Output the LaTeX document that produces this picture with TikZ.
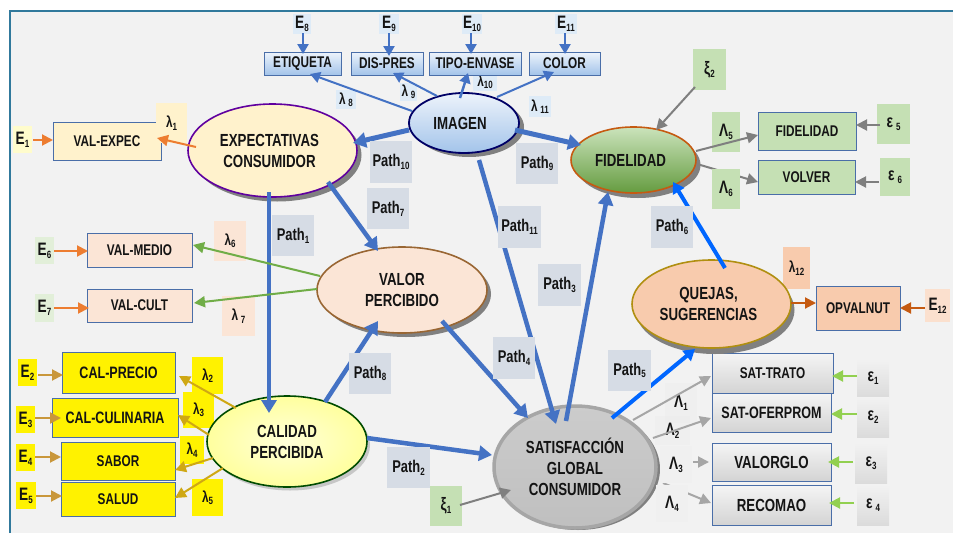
\documentclass[tikz,border=0pt]{standalone}
\usepackage{fontspec}
\setmainfont{Liberation Sans}[FakeStretch=0.76]
\usetikzlibrary{shapes.geometric,arrows.meta}
\definecolor{frameblue}{HTML}{31799C}
\definecolor{bgc}{HTML}{F2F2F2}
\definecolor{bluea}{HTML}{4472C4}
\definecolor{brightb}{HTML}{0066FF}
\definecolor{orangea}{HTML}{ED7D31}
\definecolor{greena}{HTML}{70AD47}
\definecolor{lime}{HTML}{92D050}
\definecolor{tan}{HTML}{C9973B}
\definecolor{gold}{HTML}{CFA814}
\definecolor{rust}{HTML}{C55A11}
\definecolor{greya}{HTML}{7F7F7F}
\definecolor{greyb}{HTML}{A6A6A6}
\definecolor{pathbg}{HTML}{D6DCE5}
\definecolor{greenbg}{HTML}{C5E0B4}
\definecolor{peach}{HTML}{FBE5D6}
\definecolor{cream}{HTML}{FFF2CC}
\definecolor{paleblue}{HTML}{DEEBF7}
\definecolor{salmon}{HTML}{F8CBAD}
\definecolor{boxline}{HTML}{4A6EA8}
\definecolor{gradtop}{HTML}{EDF3FB}
\definecolor{gradbot}{HTML}{A3C4EA}
\newcommand\subt[1]{\raisebox{-0.3ex}{\fontsize{10.5}{11}\selectfont #1}}
\newcommand\place[7]{%
  \pgfmathsetmacro\cxx{(#3+#5)/2}\pgfmathsetmacro\cyy{(#4+#6)/2}%
  \pgfmathsetmacro\ww{#5-#3}\pgfmathsetmacro\hh{#6-#4}%
  \expandafter\xdef\csname cx@#2\endcsname{\cxx}%
  \expandafter\xdef\csname cy@#2\endcsname{\cyy}%
  \node[#1,minimum width=\ww pt,minimum height=\hh pt] (#2) at (\cxx,\cyy) {#7};}
\newcommand\cn[7]{%
  \pgfmathsetmacro\dax{#3-\csname cx@#2\endcsname}%
  \pgfmathsetmacro\day{#4-\csname cy@#2\endcsname}%
  \pgfmathsetmacro\dbx{#6-\csname cx@#5\endcsname}%
  \pgfmathsetmacro\dby{#7-\csname cy@#5\endcsname}%
  \draw[#1] ([shift={(\dax,\day)}]#2.center) -- ([shift={(\dbx,\dby)}]#5.center);}
\tikzset{
  x=1pt,y=-1pt,
  every node/.style={inner sep=0pt,outer sep=0pt,align=center,text=black!92,font=\bfseries},
  txa/.style={font=\fontsize{15.5}{18}\bfseries\selectfont},
  txb/.style={font=\fontsize{17.5}{21}\bfseries\selectfont},
  txc/.style={font=\fontsize{16.5}{19}\bfseries\selectfont},
  lab/.style={rectangle,font=\fontsize{18}{20}\bfseries\selectfont},
  small/.style={rectangle,font=\fontsize{15.5}{18}\bfseries\selectfont},
  pth/.style={rectangle,fill=pathbg,font=\fontsize{17}{19}\bfseries\selectfont},
  boxb/.style={rectangle,draw=boxline,line width=1pt},
  elli/.style={ellipse,txb},
  shade ell/.style={fill=black!50},
  thick blue/.style={draw=bluea,line width=5pt,-{Triangle[length=13pt,width=15pt]}},
  mid blue/.style={draw=bluea,line width=4.5pt,-{Triangle[length=13pt,width=15pt]}},
  bright/.style={draw=brightb,line width=4pt,-{Triangle[length=11pt,width=13pt]}},
  thin blue/.style={draw=bluea,line width=2pt,-{Triangle[length=10pt,width=11pt]}},
  orng/.style={draw=orangea,line width=2pt,-{Triangle[length=11pt,width=11pt]}},
  grn/.style={draw=greena,line width=2pt,-{Triangle[length=11pt,width=11pt]}},
  lim/.style={draw=lime,line width=2pt,-{Triangle[length=11pt,width=11pt]}},
  tanc/.style={draw=tan,line width=2pt,-{Triangle[length=11pt,width=11pt]}},
  gld/.style={draw=gold,line width=2pt,-{Triangle[length=11pt,width=11pt]}},
  rst/.style={draw=rust,line width=2pt,-{Triangle[length=11pt,width=11pt]}},
  gra/.style={draw=greya,line width=2pt,-{Triangle[length=11pt,width=11pt]}},
  grb/.style={draw=greyb,line width=2pt,-{Triangle[length=11pt,width=11pt]}},
}
\begin{document}
\begin{tikzpicture}
\useasboundingbox (0,0) rectangle (953,533);
\fill[white] (0,0) rectangle (953,533);
\fill[bgc] (9,11) rectangle (953,533);
\draw[frameblue,line width=2pt] (9.5,533) -- (9.5,11) -- (953,11);
% loading / error squares
\place{lab,fill=yellow!20!white}{eA}{13}{126}{32}{153}{E\subt{1}}
\place{lab,fill=paleblue}{eH}{293}{14}{311}{34}{E\subt{8}}
\place{lab,fill=paleblue}{eI}{379}{14}{399}{34}{E\subt{9}}
\place{lab,fill=paleblue}{eJ}{462}{14}{482}{34}{E\subt{10}}
\place{lab,fill=paleblue}{eK}{555}{14}{577}{34}{E\subt{11}}
\place{small,fill=paleblue}{lH}{336}{90}{356}{109}{λ\,\subt{8}}
\place{small,fill=paleblue}{lI}{400}{83}{417}{101}{λ\,\subt{9}}
\place{small,fill=paleblue}{lJ}{473}{73}{497}{91}{λ\subt{10}}
\place{small,fill=paleblue}{lK}{529}{96}{551}{117}{λ\,\subt{11}}
\place{small,fill=peach}{lF}{214}{221}{246}{261}{λ\subt{6}}
\place{small,fill=peach}{lG}{222}{296}{255}{336}{λ\,\subt{7}}
\place{lab,fill=greenbg!50!white}{eF}{35}{237}{54}{264}{E\subt{6}}
\place{lab,fill=greenbg!50!white}{eG}{35}{294}{54}{322}{E\subt{7}}
\place{lab,fill=yellow}{eB}{18}{359}{37}{386}{E\subt{2}}
\place{lab,fill=yellow}{eC}{16}{406}{35}{433}{E\subt{3}}
\place{lab,fill=yellow}{eD}{16}{444}{35}{471}{E\subt{4}}
\place{lab,fill=yellow}{eE}{16}{482}{36}{509}{E\subt{5}}
\place{small,fill=yellow}{lB}{192}{357}{223}{394}{λ\subt{2}}
\place{small,fill=yellow}{lC}{183}{392}{214}{428}{λ\subt{3}}
\place{small,fill=yellow}{lD}{180}{436}{204}{464}{λ\subt{4}}
\place{small,fill=yellow}{lE}{192}{479}{223}{516}{λ\subt{5}}
\place{lab,fill=greenbg}{xiB}{693}{49}{726}{90}{ξ\subt{2}}
\place{lab,fill=greenbg}{xiA}{430}{486}{462}{526}{ξ\subt{1}}
\place{lab,fill=greenbg}{bE}{712}{112}{740}{152}{Λ\subt{5}}
\place{lab,fill=greenbg}{epE}{877}{104}{910}{144}{ε\,\subt{5}}
\place{lab,fill=greenbg}{epF}{880}{158}{910}{196}{ε\,\subt{6}}
\place{small,fill=salmon}{lL}{783}{247}{810}{289}{λ\subt{12}}
\place{lab,fill=salmon!60!white}{eL}{925}{289}{950}{322}{E\subt{12}}
\place{lab,fill=black!8!white,fill opacity=.35,text opacity=1}{bA}{665}{383}{697}{423}{Λ\subt{1}}
\place{lab,fill=black!8!white,fill opacity=.35,text opacity=1}{bB}{655}{416}{690}{445}{Λ\subt{2}}
\place{lab,top color=bgc,bottom color=black!14}{epA}{857}{359}{889}{397}{ε\subt{1}}
\place{lab,top color=bgc,bottom color=black!14}{epB}{857}{397}{889}{437}{ε\subt{2}}
\place{lab,top color=bgc,bottom color=black!14}{epC}{855}{443}{887}{483}{ε\subt{3}}
\place{lab,top color=bgc,bottom color=black!14}{epD}{857}{485}{889}{525}{ε\,\subt{4}}
% indicator boxes
\tikzset{blb/.style={boxb,txa,top color=gradtop,bottom color=gradbot}}
\place{blb}{etq}{264}{52}{341}{75}{ETIQUETA}
\place{blb}{dis}{351}{52}{423}{75}{DIS-PRES}
\place{blb}{tip}{429}{52}{521}{75}{TIPO-ENVASE}
\place{blb}{col}{529}{52}{600}{75}{COLOR}
\place{boxb,txa,fill=cream}{vex}{53}{122}{161}{160}{VAL-EXPEC}
\place{small,fill=cream}{lA}{156}{103}{187}{143}{λ\subt{1}}
\place{boxb,txa,fill=peach}{vme}{87}{233}{192}{267}{VAL-MEDIO}
\place{boxb,txa,fill=peach}{vcu}{87}{289}{192}{322}{VAL-CULT}
\place{boxb,txc,fill=yellow}{cpr}{62}{352}{175}{393}{CAL-PRECIO}
\place{boxb,txc,fill=yellow}{ccu}{52}{398}{178}{437}{CAL-CULINARIA}
\place{boxb,txa,fill=yellow}{sab}{61}{442}{175}{480}{SABOR}
\place{boxb,txa,fill=yellow}{sal}{61}{482}{175}{516}{SALUD}
\place{boxb,txa,fill=greenbg}{bfi}{758}{112}{856}{150}{FIDELIDAD}
\place{boxb,txa,fill=greenbg}{bvo}{758}{160}{855}{194}{VOLVER}
\place{boxb,txa,fill=salmon}{opv}{816}{286}{900}{330}{OPVALNUT}
\tikzset{gyb/.style={boxb,top color=black!4,bottom color=black!17}}
\place{gyb,txa}{stt}{712}{353}{833}{393}{SAT-TRATO}
\place{gyb,txc}{sto}{712}{393}{831}{432}{SAT-OFERPROM}
\place{gyb,txb}{vgl}{712}{443}{831}{481}{VALORGLO}
\place{gyb,txb}{rec}{712}{485}{831}{525}{RECOMAO}
% construct shadows
\fill[shade ell] (277,155) ellipse [x radius=84.5pt,y radius=46.5pt];
\fill[shade ell] (469,127) ellipse [x radius=55pt,y radius=30pt];
\fill[shade ell] (638,165) ellipse [x radius=62.5pt,y radius=33pt];
\fill[shade ell] (406,294) ellipse [x radius=85pt,y radius=43pt];
\fill[black!22] (290,445) ellipse [x radius=80pt,y radius=45.5pt];
\fill[shade ell] (715,310) ellipse [x radius=79.5pt,y radius=44pt];
\fill[shade ell] (578,469) ellipse [x radius=82pt,y radius=61pt];
% constructs
\place{elli,draw=violet!75!blue,line width=1.6pt,fill=cream}{exq}{188}{104}{357}{197}{EXPECTATIVAS\hspace*{6pt}\\CONSUMIDOR\hspace*{6pt}}
\place{elli,draw=blue!40!black,line width=1.8pt,top color=gradtop,bottom color=gradbot}{img}{409}{93}{519}{153}{IMAGEN\hspace*{8pt}}
\place{elli,draw=rust,line width=1.6pt,top color=greenbg!90!white,bottom color=greena!90!black}{fid}{571}{127}{696}{193}{FIDELIDAD\hspace*{6pt}}
\place{elli,draw=brown!80!black,line width=1.6pt,fill=peach}{vap}{317}{247}{487}{333}{VALOR\\PERCIBIDO}
\place{elli,draw=green!30!black,line width=1.6pt,inner color=yellow!15!white,outer color=yellow!38!white}{cap}{207}{396}{367}{487}{CALIDAD\\PERCIBIDA}
\place{elli,draw=gold!85!black,line width=1.6pt,fill=salmon}{quj}{632}{260}{791}{348}{QUEJAS,\hspace*{6pt}\\SUGERENCIAS\hspace*{6pt}}
\place{elli,draw=greyb,line width=3.5pt,top color=black!20,bottom color=black!25}{sat}{494}{406}{656}{528}{SATISFACCIÓN\\GLOBAL\\CONSUMIDOR}
% structural paths
\cn{thick blue}{img}{409}{130}{exq}{353}{143}
\cn{mid blue}{exq}{328}{182}{vap}{378}{251}
\cn{mid blue}{exq}{269}{192}{cap}{269}{413}
\cn{mid blue}{cap}{325}{402}{vap}{378}{321}
\cn{mid blue}{cap}{367}{438}{sat}{492}{455}
\cn{mid blue}{vap}{442}{321}{sat}{528}{418}
\cn{mid blue}{img}{479}{160}{sat}{556}{424}
\cn{mid blue}{sat}{566}{421}{fid}{608}{192}
\cn{thick blue}{img}{515}{130}{fid}{581}{145}
\cn{bright}{sat}{612}{418}{quj}{695}{349}
\cn{bright}{quj}{725}{268}{fid}{673}{182}
% image indicators
\cn{thin blue}{img}{412}{111}{etq}{310}{74}
\cn{thin blue}{img}{437}{96}{dis}{393}{73}
\cn{thin blue,line width=2.5pt}{img}{460}{98}{tip}{468}{73}
\cn{thin blue}{img}{497}{97}{col}{554}{72}
\cn{thin blue,line width=2.5pt}{eH}{303}{33}{etq}{303}{54}
\cn{thin blue,line width=2.5pt}{eI}{389}{33}{dis}{389}{56}
\cn{thin blue,line width=2.5pt}{eJ}{471}{33}{tip}{471}{54}
\cn{thin blue,line width=2.5pt}{eK}{565}{33}{col}{565}{54}
% left indicators
\cn{orng}{eA}{33}{140}{vex}{53}{140}
\cn{orng}{exq}{196}{147}{vex}{157}{138}
\cn{orng}{eF}{54}{251}{vme}{88}{251}
\cn{orng}{eG}{54}{308}{vcu}{89}{308}
\cn{grn}{vap}{320}{276}{vme}{193}{245}
\cn{grn}{vap}{317}{289}{vcu}{194}{303}
\cn{tanc}{eB}{38}{375}{cpr}{63}{375}
\cn{tanc}{eC}{35}{418}{ccu}{61}{418}
\cn{tanc}{eD}{35}{457}{sab}{61}{457}
\cn{tanc}{eE}{36}{496}{sal}{62}{496}
\cn{gld}{cap}{236}{408}{cpr}{179}{376}
\cn{gld}{cap}{209}{435}{ccu}{178}{415}
\cn{gld}{cap}{213}{458}{sab}{175}{470}
\cn{gld}{cap}{223}{468}{sal}{175}{498}
% right indicators
\cn{gra}{xiB}{695}{87}{fid}{656}{130}
\cn{gra}{fid}{696}{151}{bfi}{758}{135}
\cn{gra}{fid}{697}{164}{bvo}{758}{182}
\cn{gra}{epE}{880}{125}{bfi}{856}{125}
\cn{gra}{epF}{879}{182}{bvo}{855}{182}
\cn{gra}{xiA}{460}{505}{sat}{511}{490}
\cn{rst}{quj}{791}{303}{opv}{816}{303}
\cn{rst}{eL}{925}{308}{opv}{900}{308}
\cn{grb}{sat}{633}{420}{stt}{711}{376}
\cn{grb}{sat}{653}{438}{sto}{711}{418}
\cn{grb}{sat}{693}{462}{vgl}{709}{462}
\cn{grb}{sat}{663}{483}{rec}{711}{503}
\cn{lim}{epA}{857}{376}{stt}{832}{376}
\cn{lim}{epB}{857}{414}{sto}{831}{414}
\cn{lim}{epC}{853}{462}{vgl}{828}{462}
\cn{lim}{epD}{854}{503}{rec}{829}{503}
% squares that lie over the arrows
\place{pth}{pJ}{370}{141}{412}{183}{Path\subt{10}}
\place{pth}{pG}{367}{188}{409}{229}{Path\subt{7}}
\place{pth}{pA}{272}{215}{314}{256}{Path\subt{1}}
\place{pth}{pH}{349}{353}{391}{394}{Path\subt{8}}
\place{pth}{pB}{387}{447}{430}{488}{Path\subt{2}}
\place{pth}{pI}{516}{143}{558}{184}{Path\subt{9}}
\place{pth}{pK}{498}{206}{541}{248}{Path\subt{11}}
\place{pth}{pC}{538}{264}{581}{306}{Path\subt{3}}
\place{pth}{pD}{493}{337}{535}{379}{Path\subt{4}}
\place{pth}{pE}{608}{350}{651}{391}{Path\subt{5}}
\place{pth}{pF}{651}{206}{693}{248}{Path\subt{6}}
\place{lab,fill=greenbg}{bF}{712}{169}{740}{209}{Λ\subt{6}}
\place{lab,fill=black!6!white}{bC}{660}{446}{692}{483}{Λ\subt{3}}
\place{lab,fill=black!6!white}{bD}{656}{485}{688}{522}{Λ\subt{4}}
\end{tikzpicture}
\end{document}
